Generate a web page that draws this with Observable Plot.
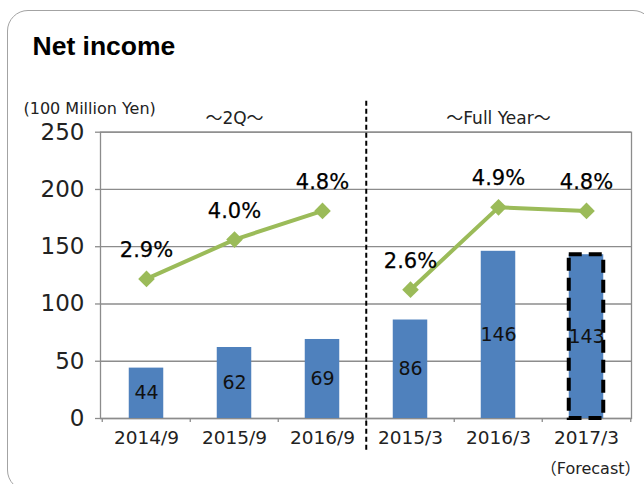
<!DOCTYPE html>
<html><head><meta charset="utf-8">
<script src="https://cdn.jsdelivr.net/npm/d3@7"></script>
<script src="https://cdn.jsdelivr.net/npm/@observablehq/plot@0.6"></script>
<style>
html,body{margin:0;padding:0;background:#fff;overflow:hidden;width:644px;height:484px;}
#wrap{position:relative;width:644px;height:484px;overflow:hidden;background:#fff;}
#chart{position:absolute;left:0;top:0;}
#frame{position:absolute;left:7px;top:10px;width:647px;height:481px;border:1.5px solid #a3a3a3;border-radius:21px;box-sizing:border-box;pointer-events:none;z-index:2;}
</style></head>
<body>
<div id="wrap"><div id="chart"></div><div id="frame"></div></div>
<script>
const categories = ["2014/9", "2015/9", "2016/9", "2015/3", "2016/3", "2017/3"];
const periods = ["2Q", "2Q", "2Q", "FY", "FY", "FY"];
const netIncome = [44, 62, 69, 86, 146, 143];
const marginPct = [2.9, 4.0, 4.8, 2.6, 4.9, 4.8];
const marginLabels = ["2.9%", "4.0%", "4.8%", "2.6%", "4.9%", "4.8%"];
const isForecast = [false, false, false, false, false, true];
const yTicks = [0, 50, 100, 150, 200, 250];
const pctAxisDomain = [-1, 7];
const periodLabels = ["～2Q～", "～Full Year～"];
const periodCenters = ["2015/9", "2016/3"];
const firstFullYear = "2015/3";
const titleText = "Net income";
const unitText = "(100 Million Yen)";
const forecastNote = "（Forecast）";

const rows = categories.map((c, i) => ({cat: c, period: periods[i], value: netIncome[i], pct: marginPct[i], pctLabel: marginLabels[i], forecast: isForecast[i]}));
const pctToY = d3.scaleLinear(pctAxisDomain, [yTicks[0], yTicks[yTicks.length - 1]]);

const W = 644, H = 484, mL = 100, mR = 13, mT = 131.7, mB = 66;
const bw = (W - mL - mR) / categories.length;
const inset = (bw - 35) / 2;
const grid = "#8c8c8c";
const font = "'DejaVu Sans', 'Noto Sans CJK JP', sans-serif";

const chart = Plot.plot({
  width: W, height: H, marginLeft: mL, marginRight: mR, marginTop: mT, marginBottom: mB,
  style: {fontFamily: font, background: "transparent", overflow: "visible"},
  x: {type: "band", domain: categories, padding: 0},
  y: {domain: [yTicks[0], yTicks[yTicks.length - 1]]},
  marks: [
    Plot.gridY(yTicks, {stroke: grid, strokeOpacity: 1, strokeWidth: 1.3}),
    Plot.frame({stroke: grid, strokeWidth: 1.3}),
    Plot.barY(rows, {x: "cat", y: "value", fill: "#4F81BD", insetLeft: inset, insetRight: inset}),
    Plot.barY(rows.filter(d => d.forecast), {x: "cat", y: "value", fill: "none", stroke: "#000", strokeWidth: 4, strokeDasharray: "13,7", insetLeft: inset, insetRight: inset}),
    Plot.ruleX(categories, {x: d => d, dx: -bw / 2, y1: 0, y2: 0, insetBottom: -4, stroke: grid, strokeWidth: 1.3}),
    Plot.ruleX([categories[categories.length - 1]], {x: d => d, dx: bw / 2, y1: 0, y2: 0, insetBottom: -4, stroke: grid, strokeWidth: 1.3}),
    Plot.ruleX([firstFullYear], {x: d => d, dx: -bw / 2, insetTop: -31, insetBottom: -32, stroke: "#000", strokeWidth: 2, strokeDasharray: "5,3"}),
    Plot.line(rows, {x: "cat", y: d => pctToY(d.pct), z: "period", stroke: "#9BBB59", strokeWidth: 4}),
    Plot.dot(rows, {x: "cat", y: d => pctToY(d.pct), symbol: "diamond2", r: 7.5, fill: "#9BBB59", stroke: "none"}),
    Plot.text(rows, {x: "cat", y: d => d.value / 2, text: d => String(d.value), fontSize: 19, fill: "#111"}),
    Plot.text(rows, {x: "cat", y: d => pctToY(d.pct), text: "pctLabel", dy: -22, lineAnchor: "bottom", fontSize: 21, fill: "#000", stroke: "#000", strokeWidth: 0.25}),
    Plot.text(periodLabels, {x: (d, i) => periodCenters[i], text: d => d, frameAnchor: "top", dy: -8.7, lineAnchor: "bottom", fontSize: 17, fill: "#222"}),
    Plot.axisY(yTicks, {tickSize: 5, tickPadding: 11, fontSize: 23, stroke: grid, strokeWidth: 1.3, fill: "#222", label: null}),
    Plot.axisX({tickSize: 0, tickPadding: 12, fontSize: 18.5, fill: "#222", label: null}),
    Plot.text([titleText], {text: d => d, frameAnchor: "top-left", dx: -68, dy: -77.7, textAnchor: "start", lineAnchor: "bottom", fontSize: 26.5, fontWeight: "bold", fontFamily: "'Liberation Sans', Arial, sans-serif", fill: "#000"}),
    Plot.text([unitText], {text: d => d, frameAnchor: "top-left", dx: -77, dy: -18.7, textAnchor: "start", lineAnchor: "bottom", fontSize: 16, fill: "#222"}),
    Plot.text([forecastNote], {text: d => d, frameAnchor: "bottom-right", dx: 9, dy: 55, textAnchor: "end", lineAnchor: "bottom", fontSize: 16, fill: "#222"})
  ]
});
document.getElementById("chart").appendChild(chart);
</script>
</body></html>
